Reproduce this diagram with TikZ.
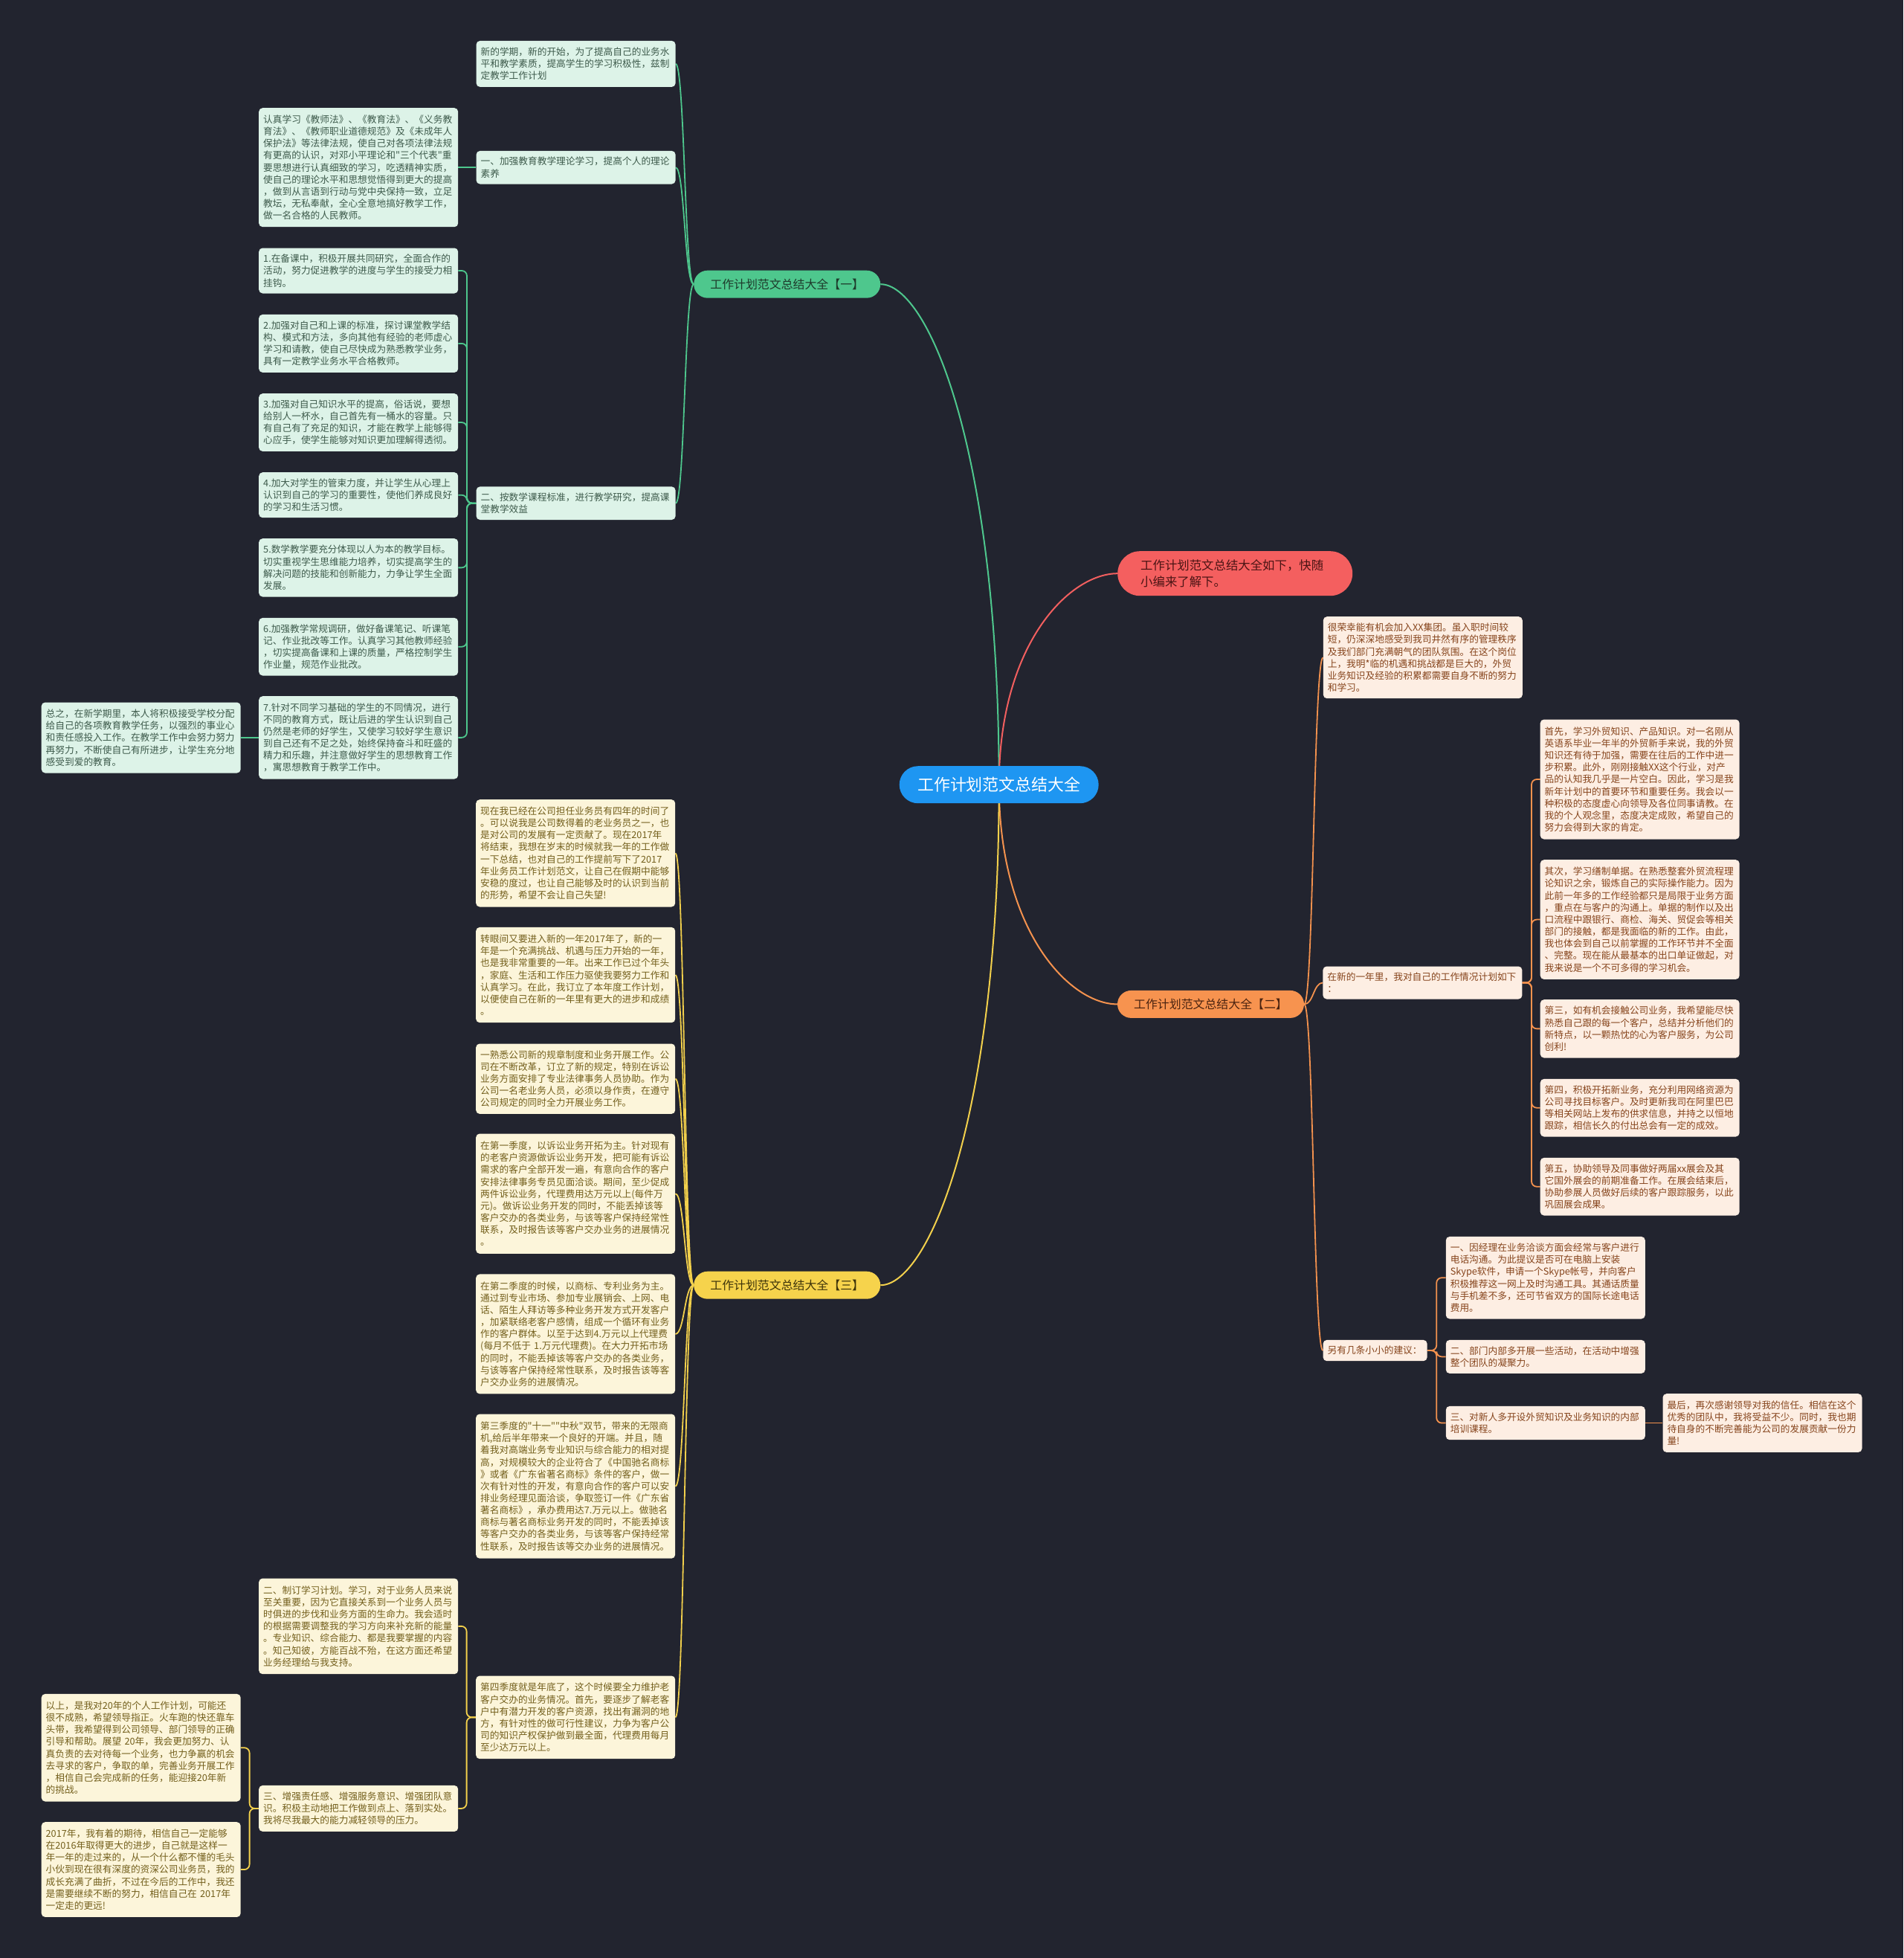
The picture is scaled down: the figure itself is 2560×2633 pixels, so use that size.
\documentclass[tikz,border=0pt]{standalone}
\usepackage{fontspec}
\newfontfamily\cjk{Noto Sans CJK SC}
\usetikzlibrary{calc}
\definecolor{bgc}{HTML}{22242F}
\definecolor{gline}{HTML}{4EC78D}
\definecolor{gfill}{HTML}{DDF3E8}
\definecolor{gtext}{HTML}{3D5A4B}
\definecolor{gpill}{HTML}{4EC78D}
\definecolor{gptext}{HTML}{1E3A2B}
\definecolor{yline}{HTML}{F2D04C}
\definecolor{yfill}{HTML}{FCF5DA}
\definecolor{ytext}{HTML}{735F1C}
\definecolor{ypill}{HTML}{F6D34C}
\definecolor{yptext}{HTML}{3E340A}
\definecolor{oline}{HTML}{F4924E}
\definecolor{ofill}{HTML}{FDEEE3}
\definecolor{otext}{HTML}{86441C}
\definecolor{opill}{HTML}{F7934F}
\definecolor{optext}{HTML}{4A2310}
\definecolor{rline}{HTML}{F25F5F}
\definecolor{rpill}{HTML}{F45F5F}
\definecolor{rptext}{HTML}{4A1414}
\definecolor{cblue}{HTML}{1E96F2}
\pgfdeclarelayer{back}
\pgfdeclarelayer{conn}
\pgfsetlayers{back,conn,main}
\newcommand\hubconn[3]{%
  \draw[#1,line width=2pt] (#2) .. controls ($(#2 |- #3)!0.33!(#2)$) and ($(#3)!0.4!(#2 |- #3)$) .. (#3);}
\newcommand\sconn[3]{%
  \path (#2) coordinate (pA) (#3) coordinate (pB);
  \path ($(pA)!0.5!(pB)$) coordinate (pM);
  \draw[#1,line width=1.8pt] (pA) .. controls (pM |- pA) and (pM |- pB) .. (pB);}
\newcommand\elbowL[3]{%
  \draw[#1,line width=1.8pt,rounded corners=7pt] (#2) -- ++(-12.4pt,0) |- (#3);}
\newcommand\elbowR[3]{%
  \draw[#1,line width=1.8pt,rounded corners=7pt] (#2) -- ++(12.4pt,0) |- (#3);}
\newcommand\straightc[3]{%
  \draw[#1,line width=1.8pt] (#2) -- (#2 -| #3);}
\begin{document}
\begin{tikzpicture}[x=1pt,y=-1pt,
  leaf/.style={rounded corners=5pt, anchor=north west, inner xsep=6pt, inner ysep=0pt,
    align=left, text width=256pt, minimum width=268pt,
    font=\cjk\fontsize{12.7}{16.15}\selectfont},
  gleaf/.style={leaf, fill=gfill, text=gtext},
  yleaf/.style={leaf, fill=yfill, text=ytext},
  oleaf/.style={leaf, fill=ofill, text=otext},
  pill/.style={rounded corners=18.5pt, anchor=north west, minimum width=251pt,
    minimum height=37pt, inner sep=0pt, font=\cjk\fontsize{15.9}{19}\selectfont},
]
\begin{pgfonlayer}{back}
\fill[bgc] (0,0) rectangle (2560,2633);
\end{pgfonlayer}
\useasboundingbox (0,0) rectangle (2560,2633);

% central node
\node[rounded corners=25pt, anchor=north west, minimum width=268pt, minimum height=50pt,
  inner sep=0pt, fill=cblue, text=white, font=\cjk\fontsize{21.9}{26}\selectfont]
  (cen) at (1209.5,1030) {工作计划范文总结大全};

% red node
\node[rounded corners=30pt, anchor=north west, minimum width=316pt, minimum height=60pt,
  inner xsep=31pt, inner ysep=0pt, text width=254pt, align=left, fill=rpill, text=rptext,
  font=\cjk\fontsize{16.4}{21.3}\selectfont]
  (red) at (1503,741) {工作计划范文总结大全如下，快随\\小编来了解下。};

% pills
\node[pill, fill=gpill, text=gptext] (p1) at (933,363.5) {工作计划范文总结大全【一】};
\node[pill, fill=opill, text=optext] (p2) at (1502.8,1331.7) {工作计划范文总结大全【二】};
\node[pill, fill=ypill, text=yptext] (p3) at (933,1709.5) {工作计划范文总结大全【三】};

% ===== green branch =====
\node[gleaf, minimum height=62pt] (g0) at (640.4,54.7) {新的学期，新的开始，为了提高自己的业务水\\平和教学素质，提高学生的学习积极性，兹制\\定教学工作计划};
\node[gleaf, minimum height=44.6pt] (g1) at (640.4,202.7) {一、加强教育教学理论学习，提高个人的理论\\素养};
\node[gleaf, minimum height=160pt] (g1a) at (348,145) {认真学习《教师法》、《教育法》、《义务教\\育法》、《教师职业道德规范》及《未成年人\\保护法》等法律法规，使自己对各项法律法规\\有更高的认识，对邓小平理论和"三个代表"重\\要思想进行认真细致的学习，吃透精神实质，\\使自己的理论水平和思想觉悟得到更大的提高\\，做到从言语到行动与党中央保持一致，立足\\教坛，无私奉献，全心全意地搞好教学工作，\\做一名合格的人民教师。};
\node[gleaf, minimum height=44.6pt] (g2) at (640.4,654.2) {二、按数学课程标准，进行教学研究，提高课\\堂教学效益};
\node[gleaf, minimum height=61pt] (l1) at (348,333.3) {1.在备课中，积极开展共同研究，全面合作的\\活动，努力促进教学的进度与学生的接受力相\\挂钩。};
\node[gleaf, minimum height=78pt] (l2) at (348,422.7) {2.加强对自己和上课的标准，探讨课堂教学结\\构、模式和方法，多向其他有经验的老师虚心\\学习和请教，使自己尽快成为熟悉教学业务，\\具有一定教学业务水平合格教师。};
\node[gleaf, minimum height=77.7pt] (l3) at (348,529) {3.加强对自己知识水平的提高，俗话说，要想\\给别人一杯水，自己首先有一桶水的容量。只\\有自己有了充足的知识，才能在教学上能够得\\心应手，使学生能够对知识更加理解得透彻。};
\node[gleaf, minimum height=61pt] (l4) at (348,635) {4.加大对学生的管束力度，并让学生从心理上\\认识到自己的学习的重要性，使他们养成良好\\的学习和生活习惯。};
\node[gleaf, minimum height=78.3pt] (l5) at (348,724) {5.数学教学要充分体现以人为本的教学目标。\\切实重视学生思维能力培养，切实提高学生的\\解决问题的技能和创新能力，力争让学生全面\\发展。};
\node[gleaf, minimum height=77.6pt] (l6) at (348,830.7) {6.加强教学常规调研，做好备课笔记、听课笔\\记、作业批改等工作。认真学习其他教师经验\\，切实提高备课和上课的质量，严格控制学生\\作业量，规范作业批改。};
\node[gleaf, minimum height=111.3pt] (l7) at (348,936) {7.针对不同学习基础的学生的不同情况，进行\\不同的教育方式，既让后进的学生认识到自己\\仍然是老师的好学生，又使学习较好学生意识\\到自己还有不足之处，始终保持奋斗和旺盛的\\精力和乐趣，并注意做好学生的思想教育工作\\，寓思想教育于教学工作中。};
\node[gleaf, minimum height=95pt] (l7a) at (55.5,944.3) {总之，在新学期里，本人将积极接受学校分配\\给自己的各项教育教学任务，以强烈的事业心\\和责任感投入工作。在教学工作中会努力努力\\再努力，不断使自己有所进步，让学生充分地\\感受到爱的教育。};

% ===== yellow branch =====
\node[yleaf, minimum height=144.3pt] (y1) at (640,1075) {现在我已经在公司担任业务员有四年的时间了\\。可以说我是公司数得着的老业务员之一，也\\是对公司的发展有一定贡献了。现在2017年\\将结束，我想在岁末的时候就我一年的工作做\\一下总结，也对自己的工作提前写下了2017\\年业务员工作计划范文，让自己在假期中能够\\安稳的度过，也让自己能够及时的认识到当前\\的形势，希望不会让自己失望!};
\node[yleaf, minimum height=128.3pt] (y2) at (640,1246.7) {转眼间又要进入新的一年2017年了，新的一\\年是一个充满挑战、机遇与压力开始的一年，\\也是我非常重要的一年。出来工作已过个年头\\，家庭、生活和工作压力驱使我要努力工作和\\认真学习。在此，我订立了本年度工作计划，\\以便使自己在新的一年里有更大的进步和成绩\\。};
\node[yleaf, minimum height=94.4pt] (y3) at (640,1403.3) {一熟悉公司新的规章制度和业务开展工作。公\\司在不断改革，订立了新的规定，特别在诉讼\\业务方面安排了专业法律事务人员协助。作为\\公司一名老业务人员，必须以身作责，在遵守\\公司规定的同时全力开展业务工作。};
\node[yleaf, minimum height=161.4pt] (y4) at (640,1524.3) {在第一季度，以诉讼业务开拓为主。针对现有\\的老客户资源做诉讼业务开发，把可能有诉讼\\需求的客户全部开发一遍，有意向合作的客户\\安排法律事务专员见面洽谈。期间，至少促成\\两件诉讼业务，代理费用达万元以上(每件万\\元)。做诉讼业务开发的同时，不能丢掉该等\\客户交办的各类业务，与该等客户保持经常性\\联系，及时报告该等客户交办业务的进展情况\\。};
\node[yleaf, minimum height=161pt] (y5) at (640,1713.2) {在第二季度的时候，以商标、专利业务为主。\\通过到专业市场、参加专业展销会、上网、电\\话、陌生人拜访等多种业务开发方式开发客户\\，加紧联络老客户感情，组成一个循环有业务\\作的客户群体。以至于达到4.万元以上代理费\\(每月不低于~1.万元代理费)。在大力开拓市场\\的同时，不能丢掉该等客户交办的各类业务，\\与该等客户保持经常性联系，及时报告该等客\\户交办业务的进展情况。};
\node[yleaf, minimum height=194.2pt] (y6) at (640,1901.3) {第三季度的"十一""中秋"双节，带来的无限商\\机,给后半年带来一个良好的开端。并且，随\\着我对高端业务专业知识与综合能力的相对提\\高，对规模较大的企业符合了《中国驰名商标\\》或者《广东省著名商标》条件的客户，做一\\次有针对性的开发，有意向合作的客户可以安\\排业务经理见面洽谈，争取签订一件《广东省\\著名商标》，承办费用达7.万元以上。做驰名\\商标与著名商标业务开发的同时，不能丢掉该\\等客户交办的各类业务，与该等客户保持经常\\性联系，及时报告该等交办业务的进展情况。};
\node[yleaf, minimum height=111.7pt] (y8) at (640,2253.3) {第四季度就是年底了，这个时候要全力维护老\\客户交办的业务情况。首先，要逐步了解老客\\户中有潜力开发的客户资源，找出有漏洞的地\\方，有针对性的做可行性建议，力争为客户公\\司的知识产权保护做到最全面，代理费用每月\\至少达万元以上。};
\node[yleaf, minimum height=128.7pt] (y7) at (348,2122.3) {二、制订学习计划。学习，对于业务人员来说\\至关重要，因为它直接关系到一个业务人员与\\时俱进的步伐和业务方面的生命力。我会适时\\的根据需要调整我的学习方向来补充新的能量\\。专业知识、综合能力、都是我要掌握的内容\\。知己知彼，方能百战不殆，在这方面还希望\\业务经理给与我支持。};
\node[yleaf, minimum height=62pt] (y9) at (348,2400.7) {三、增强责任感、增强服务意识、增强团队意\\识。积极主动地把工作做到点上、落到实处。\\我将尽我最大的能力减轻领导的压力。};
\node[yleaf, minimum height=144.6pt] (y10) at (55.5,2277.7) {以上，是我对20年的个人工作计划，可能还\\很不成熟，希望领导指正。火车跑的快还靠车\\头带，我希望得到公司领导、部门领导的正确\\引导和帮助。展望~20年，我会更加努力、认\\真负责的去对待每一个业务，也力争赢的机会\\去寻求的客户，争取的单，完善业务开展工作\\，相信自己会完成新的任务，能迎接20年新\\的挑战。};
\node[yleaf, minimum height=127.7pt] (y11) at (55.5,2450) {2017年，我有着的期待，相信自己一定能够\\在2016年取得更大的进步，自己就是这样一\\年一年的走过来的，从一个什么都不懂的毛头\\小伙到现在很有深度的资深公司业务员，我的\\成长充满了曲折，不过在今后的工作中，我还\\是需要继续不断的努力，相信自己在~2017年\\一定走的更远!};

% ===== orange branch =====
\node[oleaf, minimum height=110pt] (o1) at (1779.6,829) {很荣幸能有机会加入XX集团。虽入职时间较\\短，仍深深地感受到我司井然有序的管理秩序\\及我们部门充满朝气的团队氛围。在这个岗位\\上，我明*临的机遇和挑战都是巨大的，外贸\\业务知识及经验的积累都需要自身不断的努力\\和学习。};
\node[oleaf, minimum height=44pt] (o2) at (1779.2,1299.3) {在新的一年里，我对自己的工作情况计划如下\\：};
\node[oleaf, minimum height=28.3pt, text width=128pt, minimum width=140pt] (o3) at (1779.4,1801.7) {另有几条小小的建议：};
\node[oleaf, minimum height=161pt] (o2a) at (2071.5,967.3) {首先，学习外贸知识、产品知识。对一名刚从\\英语系毕业一年半的外贸新手来说，我的外贸\\知识还有待于加强，需要在往后的工作中进一\\步积累。此外，刚刚接触XX这个行业，对产\\品的认知我几乎是一片空白。因此，学习是我\\新年计划中的首要环节和重要任务。我会以一\\种积极的态度虚心向领导及各位同事请教。在\\我的个人观念里，态度决定成败，希望自己的\\努力会得到大家的肯定。};
\node[oleaf, minimum height=160.7pt] (o2b) at (2071.5,1156) {其次，学习缮制单据。在熟悉整套外贸流程理\\论知识之余，锻炼自己的实际操作能力。因为\\此前一年多的工作经验都只是局限于业务方面\\，重点在与客户的沟通上。单据的制作以及出\\口流程中跟银行、商检、海关、贸促会等相关\\部门的接触，都是我面临的新的工作。由此，\\我也体会到自己以前掌握的工作环节并不全面\\、完整。现在能从最基本的出口单证做起，对\\我来说是一个不可多得的学习机会。};
\node[oleaf, minimum height=78.3pt] (o2c) at (2071.5,1344) {第三，如有机会接触公司业务，我希望能尽快\\熟悉自己跟的每一个客户，总结并分析他们的\\新特点，以一颗热忱的心为客户服务，为公司\\创利!};
\node[oleaf, minimum height=77.6pt] (o2d) at (2071.5,1450.7) {第四，积极开拓新业务，充分利用网络资源为\\公司寻找目标客户。及时更新我司在阿里巴巴\\等相关网站上发布的供求信息，并持之以恒地\\跟踪，相信长久的付出总会有一定的成效。};
\node[oleaf, minimum height=77.6pt] (o2e) at (2071.5,1556.7) {第五，协助领导及同事做好两届xx展会及其\\它国外展会的前期准备工作。在展会结束后，\\协助参展人员做好后续的客户跟踪服务，以此\\巩固展会成果。};
\node[oleaf, minimum height=110.6pt] (o3a) at (1944.6,1662.7) {一、因经理在业务洽谈方面会经常与客户进行\\电话沟通。为此提议是否可在电脑上安装\\Skype软件，申请一个Skype帐号，并向客户\\积极推荐这一网上及时沟通工具。其通话质量\\与手机差不多，还可节省双方的国际长途电话\\费用。};
\node[oleaf, minimum height=45pt] (o3b) at (1944.6,1801.7) {二、部门内部多开展一些活动，在活动中增强\\整个团队的凝聚力。};
\node[oleaf, minimum height=45.3pt] (o3c) at (1944.6,1890.7) {三、对新人多开设外贸知识及业务知识的内部\\培训课程。};
\node[oleaf, minimum height=78.7pt] (o3d) at (2236.3,1874) {最后，再次感谢领导对我的信任。相信在这个\\优秀的团队中，我将受益不少。同时，我也期\\待自身的不断完善能为公司的发展贡献一份力\\量!};

% ===== connectors =====
\begin{pgfonlayer}{conn}
\hubconn{gline}{cen.center}{p1.east}
\hubconn{rline}{cen.center}{red.west}
\hubconn{oline}{cen.center}{p2.west}
\hubconn{yline}{cen.center}{p3.east}
% green
\sconn{gline}{p1.west}{g0.east}
\sconn{gline}{p1.west}{g1.east}
\sconn{gline}{p1.west}{g2.east}
\straightc{gline}{g1.west}{g1a.east}
\elbowL{gline}{g2.west}{l1.east}
\elbowL{gline}{g2.west}{l2.east}
\elbowL{gline}{g2.west}{l3.east}
\elbowL{gline}{g2.west}{l4.east}
\elbowL{gline}{g2.west}{l5.east}
\elbowL{gline}{g2.west}{l6.east}
\elbowL{gline}{g2.west}{l7.east}
\straightc{gline}{l7.west}{l7a.east}
% yellow
\sconn{yline}{p3.west}{y1.east}
\sconn{yline}{p3.west}{y2.east}
\sconn{yline}{p3.west}{y3.east}
\sconn{yline}{p3.west}{y4.east}
\sconn{yline}{p3.west}{y5.east}
\sconn{yline}{p3.west}{y6.east}
\sconn{yline}{p3.west}{y8.east}
\elbowL{yline}{y8.west}{y7.east}
\elbowL{yline}{y8.west}{y9.east}
\elbowL{yline}{y9.west}{y10.east}
\elbowL{yline}{y9.west}{y11.east}
% orange
\sconn{oline}{p2.east}{o1.west}
\sconn{oline}{p2.east}{o2.west}
\sconn{oline}{p2.east}{o3.west}
\elbowR{oline}{o2.east}{o2a.west}
\elbowR{oline}{o2.east}{o2b.west}
\elbowR{oline}{o2.east}{o2c.west}
\elbowR{oline}{o2.east}{o2d.west}
\elbowR{oline}{o2.east}{o2e.west}
\elbowR{oline}{o3.east}{o3a.west}
\elbowR{oline}{o3.east}{o3b.west}
\elbowR{oline}{o3.east}{o3c.west}
\straightc{oline}{o3c.east}{o3d.west}
\end{pgfonlayer}
\end{tikzpicture}
\end{document}
